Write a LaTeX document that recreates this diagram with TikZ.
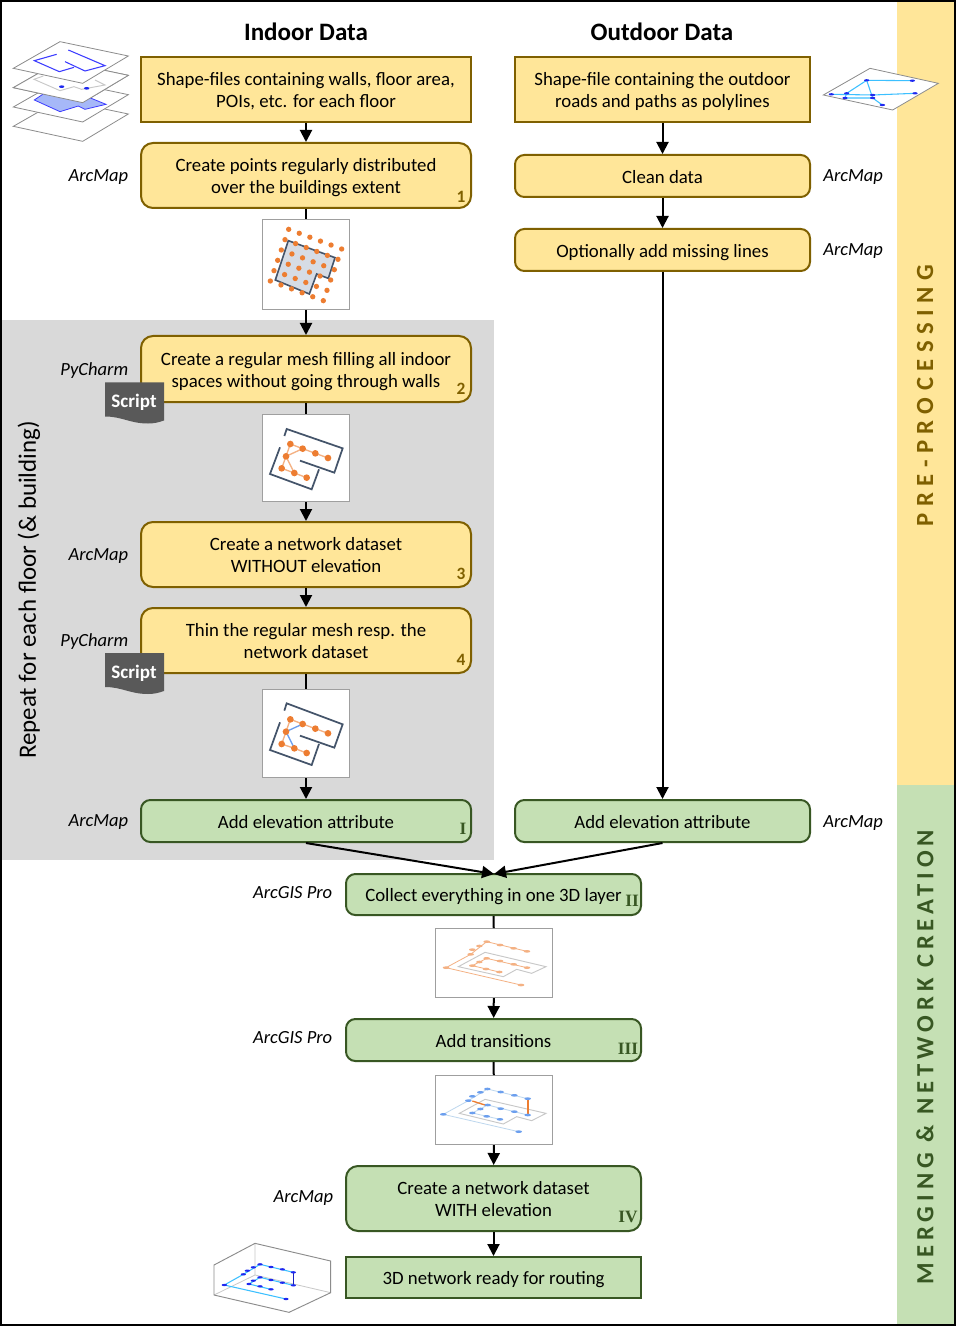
\documentclass[tikz,border=0pt]{standalone}
\usepackage{fontspec}
\setmainfont{Carlito}
\newfontfamily\sidefonta[LetterSpace=26.5]{Carlito}
\newfontfamily\sidefontb[LetterSpace=20]{Carlito}
\newfontfamily\romanfont{Liberation Serif}
\usetikzlibrary{arrows.meta}
\definecolor{yfill}{HTML}{FFE699}
\definecolor{ybord}{HTML}{7F6000}
\definecolor{gfill}{HTML}{C5E0B4}
\definecolor{gbord}{HTML}{385723}
\definecolor{graybg}{HTML}{D9D9D9}
\definecolor{wall}{HTML}{44546A}
\definecolor{orng}{HTML}{ED7D31}
\definecolor{lorng}{HTML}{F4B183}
\definecolor{fplan}{HTML}{D6DCE5}
\definecolor{planeg}{HTML}{8C8C8C}
\definecolor{bluel}{HTML}{3C3CFF}
\definecolor{bluef}{HTML}{A6B8F8}
\definecolor{netb}{HTML}{1E28F0}
\definecolor{cyanl}{HTML}{3CC0FF}
\definecolor{mblue}{HTML}{6C9FEE}
\definecolor{lblue}{HTML}{BDD7EE}
\definecolor{lgray}{HTML}{C8C8C8}
\definecolor{scriptg}{HTML}{595959}
\newcommand\bx[7]{\node[#2, minimum width={(#5-#3)*0.75pt}, minimum height={(#6-#4)*0.75pt}] (#1) at ({(#3+#5)/2},{(#4+#6)/2}) {\raisebox{0pt}[\dimexpr\height+4.5pt\relax][\depth]{\begin{tabular}{@{}c@{}}#7\end{tabular}}};}
\newcommand\imgframe[5]{\node[imgbox, minimum width={(#4-#2)*0.75pt}, minimum height={(#5-#3)*0.75pt}] (#1) at ({(#2+#4)/2},{(#3+#5)/2}) {};}
\tikzset{
  x=0.75pt,y=-0.75pt,
  basebox/.style={draw,line width=1.5pt,inner sep=0pt,font=\fontsize{14.1}{16.5}\selectfont},
  yrect/.style={basebox,fill=yfill,draw=ybord},
  yround/.style={yrect,rounded corners=9pt},
  grect/.style={basebox,fill=gfill,draw=gbord},
  ground/.style={grect,rounded corners=9pt},
  yrounds/.style={yrect,rounded corners=7pt},
  grounds/.style={grect,rounded corners=7pt},
  imgbox/.style={draw=gray!75,fill=white,line width=0.75pt,inner sep=0pt},
  conn/.style={line width=1.5pt,draw=black},
  arr/.style={conn,-{Triangle[length=9pt,width=9pt]}},
  tool/.style={font=\itshape\fontsize{13.9}{16}\selectfont,inner sep=0pt,yshift=-1.2pt},
  head/.style={font=\bfseries\fontsize{18.8}{20}\selectfont,inner sep=0pt},
  numy/.style={font=\bfseries\fontsize{13}{14}\selectfont,text=ybord,inner sep=0pt},
  numg/.style={font=\romanfont\bfseries\fontsize{13}{14}\selectfont,text=gbord,inner sep=0pt},
  scripttxt/.style={font=\bfseries\fontsize{14.3}{16}\selectfont,text=white,inner sep=0pt},
  z/.style 2 args={shift={(#1,#2)},x=0.25pt,y=-0.25pt},
  plane/.style={draw=planeg,fill=white,line width=0.6pt},
}
\newcommand\script[3]{%
  \fill[scriptg] (105,#2) -- (164,#2) -- (164,#2+38)
    .. controls (158,#2+40) and (154,#2+41) .. (148,#2+41)
    .. controls (130,#2+41) and (122,#2+34) .. (105,#2+34) -- cycle;
  \node[scripttxt] (#1) at (134,#2+20) {#3};}
\begin{document}
\begin{tikzpicture}
\useasboundingbox (0,0) rectangle (956,1326);
\fill[white] (0,0) rectangle (956,1326);
% bands
\fill[yfill] (897,1) rectangle (955,785);
\fill[gfill] (897,785) rectangle (955,1325);
\fill[graybg] (1,320) rectangle (494,860);
% nodes
\node[head] (hi) at (306,32) {Indoor Data};
\node[head] (ho) at (662,32) {Outdoor Data};
\bx{b0}{yrect}{141}{57}{471}{122}{Shape-files containing walls, floor area,\\POIs, etc. for each floor}
\bx{b1}{yround}{141}{143}{471}{208}{Create points regularly distributed\\over the buildings extent}
\imgframe{i1}{262.5}{220}{349.5}{309.5}
\bx{b2}{yround}{141}{336}{471}{402}{Create a regular mesh filling all indoor\\spaces without going through walls}
\imgframe{i2}{262.5}{414.5}{349.5}{501.5}
\bx{b3}{yround}{141}{522}{471}{587}{Create a network dataset\\WITHOUT elevation}
\bx{b4}{yround}{141}{608}{471}{673}{Thin the regular mesh resp. the\\network dataset}
\imgframe{i3}{262.5}{689.5}{349.5}{777.5}
\bx{bI}{grounds}{141}{800}{471}{842}{Add elevation attribute}
\bx{o0}{yrect}{515}{57}{810}{122}{Shape-file containing the outdoor\\roads and paths as polylines}
\bx{o1}{yrounds}{515}{155}{810}{197}{Clean data}
\bx{o2}{yrounds}{515}{229}{810}{271}{Optionally add missing lines}
\bx{oE}{grounds}{515}{800}{810}{842}{Add elevation attribute}
\bx{c2}{grounds}{346}{874}{641}{915}{Collect everything in one 3D layer}
\imgframe{i4}{435.5}{928.5}{552.5}{997.5}
\bx{c3}{grounds}{346}{1019}{641}{1061}{Add transitions}
\imgframe{i5}{435.5}{1075.5}{552.5}{1144.5}
\bx{c4}{ground}{346}{1166}{641}{1231}{Create a network dataset\\WITH elevation}
\bx{c5}{grect}{346}{1257}{641}{1298}{3D network ready for routing}
\coordinate (m) at (494,874);
% connectors
\draw[arr] (b0) -- (b1);
\draw[conn] (b1) -- (i1);
\draw[arr] (i1) -- (b2);
\draw[conn] (b2) -- (i2);
\draw[arr] (i2) -- (b3);
\draw[arr] (b3) -- (b4);
\draw[conn] (b4) -- (i3);
\draw[arr] (i3) -- (bI);
\draw[arr] (o0) -- (o1);
\draw[arr] (o1) -- (o2);
\draw[arr] (o2) -- (oE);
\draw[arr] (bI.south) -- (m);
\draw[arr] (oE.south) -- (m);
\draw[conn] (c2) -- (i4);
\draw[arr] (i4) -- (c3);
\draw[conn] (c3) -- (i5);
\draw[arr] (i5) -- (c4);
\draw[arr] (c4) -- (c5);
% step numbers
\node[numy] (n1) at (461,197) {1};
\node[numy] (n2) at (461,389) {2};
\node[numy] (n3) at (461,574) {3};
\node[numy] (n4) at (461,660) {4};
\node[numg] (nI) at (463,829) {I};
\node[numg] (nII) at (632,901) {II};
\node[numg] (nIII) at (628,1049) {III};
\node[numg] (nIV) at (628,1217) {IV};
% tools
\node[tool,anchor=east] (t1) at (128.5,175) {ArcMap};
\node[tool,anchor=east] (t2) at (128.5,369) {PyCharm};
\node[tool,anchor=east] (t3) at (128.5,554) {ArcMap};
\node[tool,anchor=east] (t4) at (128.5,640) {PyCharm};
\node[tool,anchor=east] (t5) at (128.5,820) {ArcMap};
\node[tool,anchor=west] (t6) at (823,175) {ArcMap};
\node[tool,anchor=west] (t7) at (823,249) {ArcMap};
\node[tool,anchor=west] (t8) at (823,821) {ArcMap};
\node[tool,anchor=east] (t9) at (332.5,891) {ArcGIS Pro};
\node[tool,anchor=east] (t10) at (332.5,1036) {ArcGIS Pro};
\node[tool,anchor=east] (t11) at (333.5,1196) {ArcMap};
% scripts
\script{s1}{382.5}{Script}
\script{s2}{653}{Script}
% side labels
\node[rotate=90,inner sep=0pt,font=\fontsize{18.7}{20}\selectfont] (rep) at (29,590) {Repeat for each floor (\& building)};
\node[rotate=90,inner sep=0pt,text=ybord,font=\sidefonta\bfseries\fontsize{18.5}{20}\selectfont] (pp) at (925,395.5) {PRE-PROCESSING};
\node[rotate=90,inner sep=0pt,text=gbord,font=\sidefontb\bfseries\fontsize{18.5}{20}\selectfont] (mn) at (925,1057) {MERGING \& NETWORK CREATION};
% layered floor icon
\begin{scope}[z={0}{20}]
 \foreach \d in {174,116,58}{
   \draw[plane] (40,145+\d) -- (180,65+\d) -- (385,108+\d) -- (248,190+\d) -- cycle;}
 \fill[bluef] (140,215) -- (103,240) -- (180,275) -- (235,258) -- (255,268) -- (318,253) -- (200,205) -- cycle;
 \draw[bluel,line width=0.6pt] (140,215) -- (103,240) -- (180,275) -- (235,258) -- (255,268) -- (318,253) -- (200,205);
 \draw[plane] (40,203) -- (180,123) -- (385,166) -- (248,248) -- cycle;
 \draw[lgray,line width=0.7pt] (130,168) -- (102,178) -- (180,212) -- (222,200) -- (245,208) -- (315,195) -- (285,180);
 \fill[netb] (185,200) ellipse [x radius=8,y radius=4];
 \fill[netb] (260,205) ellipse [x radius=8,y radius=4];
 \draw[plane] (40,145) -- (180,65) -- (385,108) -- (248,190) -- cycle;
 \draw[bluel,line width=0.8pt] (170,103) -- (103,122) -- (178,155) -- (222,142);
 \draw[bluel,line width=0.8pt] (205,90) -- (315,137) -- (255,153) -- (195,125);
 % point grid icon
 \fill[fplan] (865,662) -- (1005,713) -- (985,775) -- (950,762) -- (928,822) -- (826,780) -- cycle;
 \draw[wall,line width=1.2pt] (865,662) -- (1005,713) -- (985,775) -- (950,762) -- (928,822) -- (826,780) -- cycle;
 \foreach \r in {0,...,5}{\foreach \c in {0,...,5}{
   \fill[orng] ({866-11*\r+31.8*\c},{628+31*\r+11.8*\c}) circle [radius=8];}}
\end{scope}
% mesh icon 1
\begin{scope}[z={100}{330}]
 \draw[wall,line width=1.3pt] (553,318) -- (560,297) -- (728,355) -- (703,428) -- (600,392);
 \draw[wall,line width=1.3pt] (540,352) -- (510,432) -- (635,478) -- (657,418);
 \draw[lorng,line width=1pt] (558,379) -- (571,342) -- (608,356) -- (646,370) -- (684,384);
 \draw[lorng,line width=1pt] (608,356) -- (558,379) -- (545,415) -- (583,429) -- (620,443);
 \draw[lorng,line width=1pt] (558,379) -- (583,429);
 \foreach \p in {(571,342),(608,356),(646,370),(684,384),(558,379),(545,415),(583,429),(620,443)}
   \fill[orng] \p circle [radius=10];
\end{scope}
% mesh icon 2
\begin{scope}[z={100}{640}]
 \draw[wall,line width=1.3pt] (553,212) -- (560,190) -- (728,253) -- (703,323) -- (600,287);
 \draw[wall,line width=1.3pt] (540,247) -- (510,330) -- (635,375) -- (657,312);
 \draw[lorng,line width=1pt] (558,275) -- (571,238) -- (608,252) -- (646,266) -- (684,280);
 \draw[lorng,line width=1pt] (558,275) -- (545,312) -- (583,325) -- (620,339);
 \draw[mblue,line width=1pt] (608,252) -- (558,275) -- (583,325);
 \foreach \p in {(571,238),(608,252),(646,266),(684,280),(558,275),(545,312),(583,325),(620,339)}
   \fill[orng] \p circle [radius=10];
\end{scope}
% 3D icons
\begin{scope}[z={420}{880}]
 \draw[lgray,line width=0.7pt] (115,260) -- (195,217) -- (378,260) -- (335,280) -- (290,268) -- (250,290) -- cycle;
 \draw[lorng,line width=0.6pt] (321,214) -- (200,185) -- (152,223) -- (78,263) -- (303,315);
 \draw[lorng,line width=0.6pt] (321,263) -- (200,235) -- (157,257) -- (238,276);
 \foreach \p in {(200,185),(240,195),(281,205),(321,214),(178,198),(157,209),(152,223),(78,263),(303,315),(200,235),(240,243),(281,253),(321,263),(178,246),(157,257),(198,267),(238,276)}
   \fill[lorng] \p ellipse [x radius=10,y radius=4];
 % transitions icon
 \draw[lgray,line width=0.7pt] (118,700) -- (195,658) -- (378,700) -- (335,722) -- (290,710) -- (250,732) -- cycle;
 \draw[lblue,line width=0.6pt] (323,656) -- (202,627) -- (145,662) -- (70,703) -- (296,755);
 \draw[lblue,line width=0.6pt] (323,705) -- (203,675) -- (157,699) -- (240,718);
 \draw[orng,line width=1pt] (157,663) -- (195,675);
 \draw[orng,line width=1.6pt] (323,656) -- (323,705);
 \foreach \p in {(202,627),(242,636),(283,646),(323,656),(181,637),(157,649),(145,662),(70,703),(296,755),(203,675),(242,686),(283,695),(323,705),(181,687),(157,699),(200,709),(240,718)}
   \fill[mblue] \p ellipse [x radius=10,y radius=4];
\end{scope}
% final box icon
\begin{scope}[z={200}{1160}]
 \fill[white] (42,315) -- (165,250) -- (392,303) -- (392,398) -- (267,457) -- (42,405) -- cycle;
 \draw[lgray,line width=0.6pt] (165,250) -- (165,345) (42,405) -- (165,345) -- (392,398);
 \draw[planeg,line width=0.7pt] (42,315) -- (165,250) -- (392,303) -- (392,398) -- (267,457) -- (42,405) -- cycle;
 \draw[cyanl,line width=0.8pt] (280,337) -- (180,313) -- (130,343) -- (73,375) -- (258,417);
 \draw[cyanl,line width=0.8pt] (280,376) -- (180,352) -- (147,372) -- (213,388);
 \draw[netb!80!black,line width=1pt] (280,337) -- (280,376);
 \foreach \p in {(180,313),(213,321),(247,328),(280,337),(160,322),(142,332),(130,343),(73,375),(258,417),(180,352),(213,360),(247,368),(280,376),(160,362),(147,372),(180,379),(213,388)}
   \fill[netb] \p ellipse [x radius=8,y radius=3.5];
\end{scope}
% outdoor icon
\begin{scope}[z={800}{50}]
 \draw[plane] (70,135) -- (210,55) -- (415,100) -- (278,180) -- cycle;
 \draw[cyanl,line width=0.8pt] (337,92) -- (200,91) -- (140,130) -- (135,144) -- (218,144) -- (247,165);
 \draw[cyanl,line width=0.8pt] (200,91) -- (218,144);
 \draw[cyanl,line width=0.8pt] (94,133) -- (218,135) -- (345,130);
 \foreach \p in {(200,91),(337,92),(94,133),(140,130),(135,144),(218,135),(218,144),(345,130),(247,165)}
   \fill[netb] \p ellipse [x radius=8,y radius=3.5];
\end{scope}
% outer frame
\draw[black,line width=1.5pt] (1,1) rectangle (955,1325);
\end{tikzpicture}
\end{document}
